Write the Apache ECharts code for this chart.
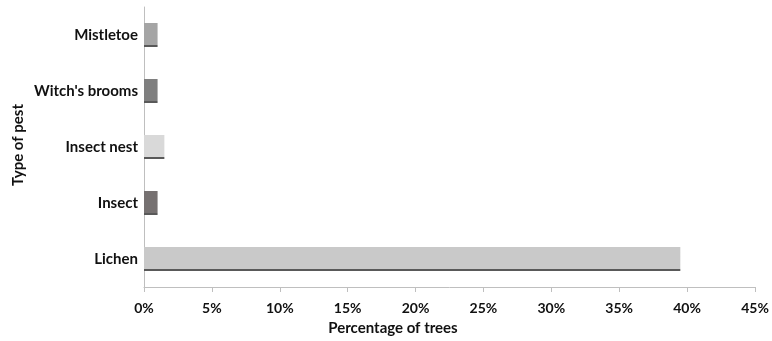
<!DOCTYPE html>
<html>
<head>
<meta charset="utf-8">
<script src="https://cdn.jsdelivr.net/npm/echarts@6/dist/echarts.min.js"></script>
<style>html,body{margin:0;padding:0;background:#fff}#c{width:772px;height:341px}</style>
</head>
<body>
<div id="c"></div>
<script>
var categories = ['Lichen', 'Insect', 'Insect nest', "Witch's brooms", 'Mistletoe'];
var values = [39.5, 1, 1.5, 1, 1];
var barColors = ['#c9c9c9', '#767171', '#d9d9d9', '#7f7f7f', '#a5a5a5'];
var xTicks = [0, 5, 10, 15, 20, 25, 30, 35, 40, 45];

var FONT = 'Lato';
function grad(c) {
  return new echarts.graphic.LinearGradient(0, 0, 0, 1, [
    {offset: 0, color: c}, {offset: 0.9, color: c},
    {offset: 0.9, color: '#595959'}, {offset: 1, color: '#595959'}
  ]);
}
var chart = echarts.init(document.getElementById('c'));
chart.setOption({
  animation: false,
  grid: {left: 144, right: 17, top: 7, bottom: 54, containLabel: false, outerBoundsMode: 'none'},
  xAxis: {
    type: 'value', min: xTicks[0], max: xTicks[xTicks.length - 1], interval: 5,
    axisLine: {show: true, lineStyle: {color: '#bfbfbf', width: 1}},
    axisTick: {show: true, length: 5, lineStyle: {color: '#bfbfbf'}},
    splitLine: {show: false},
    axisLabel: {formatter: function (v) { return v + '%'; }, margin: 14,
      fontFamily: FONT, fontWeight: 'bold', fontSize: 14, color: '#111'}
  },
  yAxis: {
    type: 'category', data: categories,
    axisLine: {show: true, lineStyle: {color: '#bfbfbf', width: 1}},
    axisTick: {show: false},
    axisLabel: {margin: 6, fontFamily: FONT, fontWeight: 'bold', fontSize: 15, color: '#111'}
  },
  graphic: [{
    type: 'text', x: 393, y: 328,
    style: {text: 'Percentage of trees', fontFamily: FONT, fontWeight: 'bold', fontSize: 15,
      fill: '#111', align: 'center', verticalAlign: 'middle'}
  }, {
    type: 'text', x: 18, y: 145, rotation: Math.PI / 2,
    style: {text: 'Type of pest', fontFamily: FONT, fontWeight: 'bold', fontSize: 15,
      fill: '#111', align: 'center', verticalAlign: 'middle'}
  }],
  series: [{
    type: 'bar', barWidth: 24,
    data: values.map(function (v, i) { return {value: v, itemStyle: {color: grad(barColors[i])}}; })
  }]
});
</script>
</body>
</html>
